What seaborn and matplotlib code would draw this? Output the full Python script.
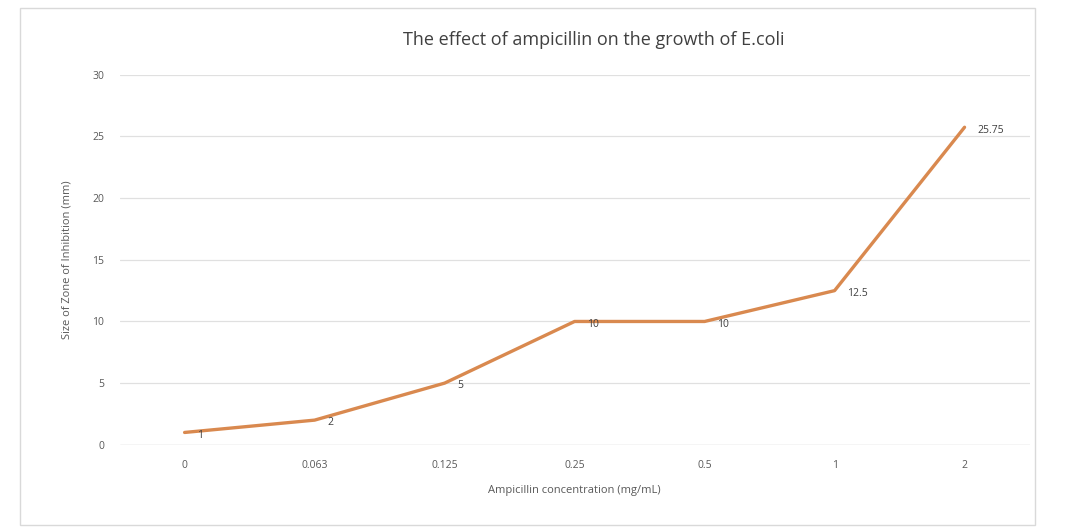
import matplotlib
matplotlib.use("Agg")
import matplotlib.pyplot as plt
from matplotlib.patches import Rectangle
import pandas as pd
import seaborn as sns

concentrations = ["0", "0.063", "0.125", "0.25", "0.5", "1", "2"]
zone_mm = [1, 2, 5, 10, 10, 12.5, 25.75]
point_labels = ["1", "2", "5", "10", "10", "12.5", "25.75"]

df = pd.DataFrame({"conc": concentrations, "zone": zone_mm})
df["pos"] = range(len(df))

sns.set_style("white")
plt.rcParams["font.family"] = ["Open Sans", "DejaVu Sans"]

fig = plt.figure(figsize=(10.68, 5.27), dpi=100)
ax = fig.add_axes([0.112, 0.156, 0.852, 0.702])

sns.lineplot(data=df, x="pos", y="zone", ax=ax, color="#D9894F", lw=2.4)

for x, y, t in zip(df["pos"], df["zone"], point_labels):
    ax.annotate(t, (x, y), xytext=(9, -2), textcoords="offset points",
                ha="left", va="center", fontsize=7.5, color="#404040")

ax.set_xlim(-0.5, len(df) - 0.5)
ax.set_ylim(0, 30)
ax.set_yticks(range(0, 31, 5))
ax.set_xticks(df["pos"])
ax.set_xticklabels(concentrations)
ax.yaxis.grid(True, color="#E0E0E0", lw=0.9)
ax.tick_params(axis="both", length=0, labelsize=7.5, labelcolor="#595959", pad=11)
for s in ax.spines.values():
    s.set_visible(False)
ax.axhline(0, color="#D0D0D0", lw=0.9)

ax.set_xlabel("Ampicillin concentration (mg/mL)", fontsize=8, color="#595959", labelpad=10)
ax.set_ylabel("Size of Zone of Inhibition (mm)", fontsize=8, color="#595959", labelpad=14)
fig.text(0.556, 0.925, "The effect of ampicillin on the growth of E.coli",
         ha="center", va="center", fontsize=13, color="#404040")

fig.patches.append(Rectangle((20 / 1068, 2 / 527), 1015 / 1068, 517 / 527,
                             transform=fig.transFigure, fill=False,
                             edgecolor="#D9D9D9", lw=1))

fig.savefig("out.png", dpi=100)
